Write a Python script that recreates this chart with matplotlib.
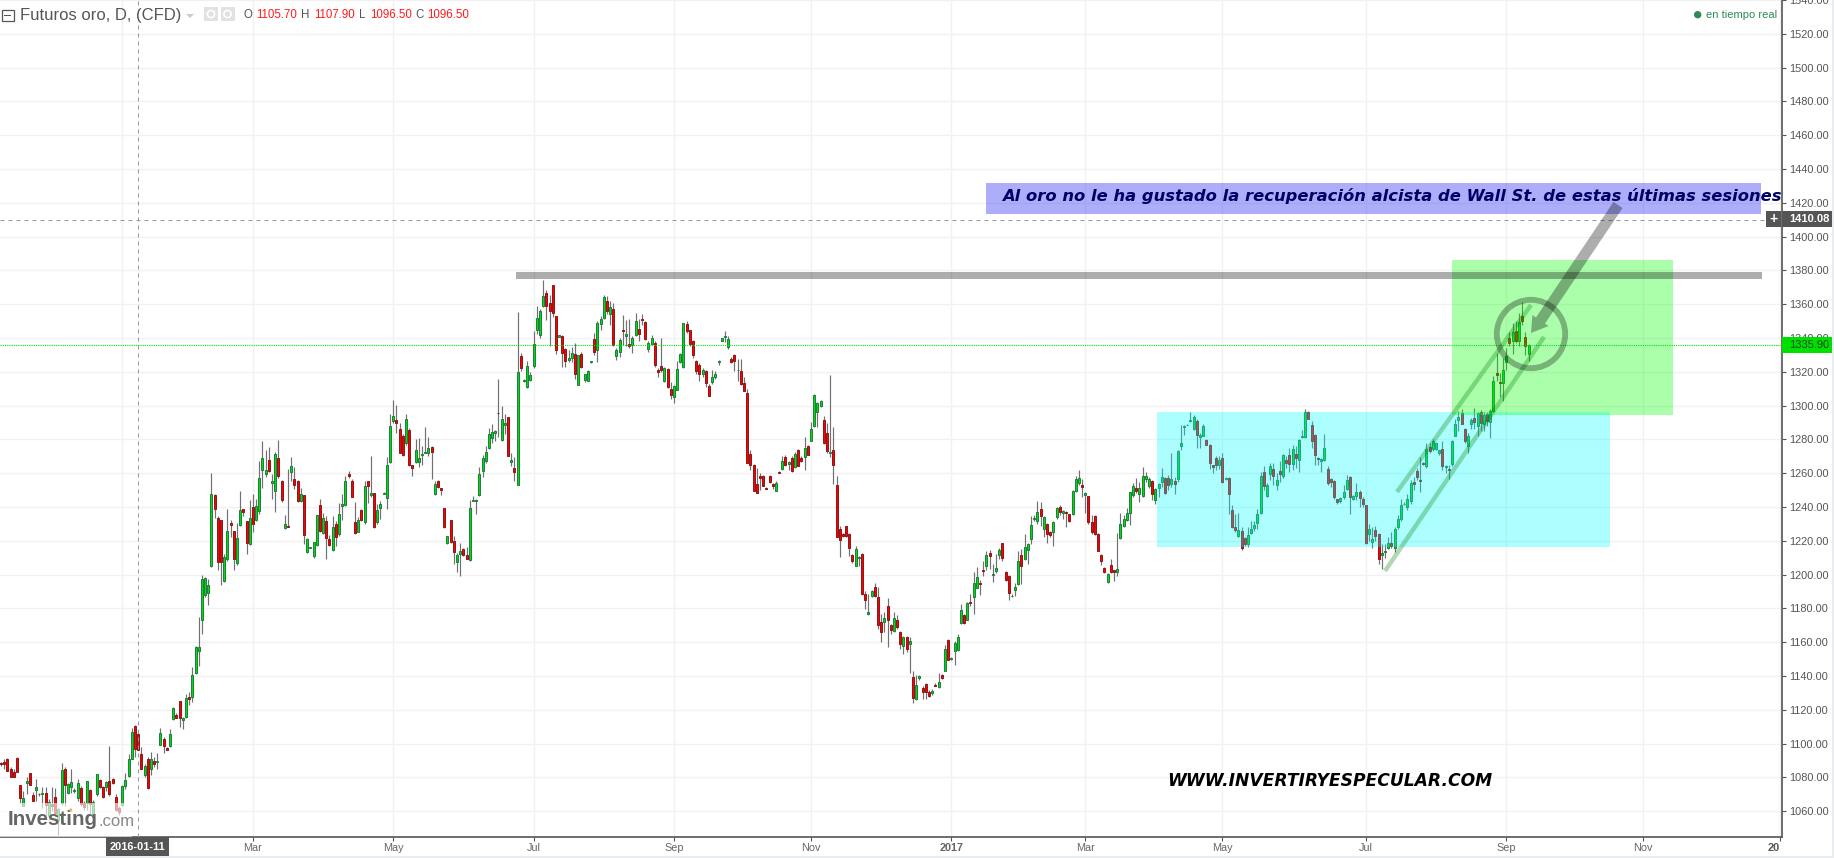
import matplotlib
matplotlib.use("Agg")
import matplotlib.pyplot as plt
from matplotlib.patches import Rectangle, Polygon, Circle
from matplotlib.transforms import Affine2D

plt.rcParams['font.family'] = ['Liberation Sans', 'DejaVu Sans']

opens = [
1088.3,1089.3,1091.2,1085.3,1083,1091.8,1075.3,1063.3,1076.9,1082.4,
1069.6,1072.8,1070,1070.1,1070.6,1057,1064.3,1068.3,1054.9,1064.7,
1084.8,1070.6,1074.5,1072.2,1067.7,1073.6,1064.7,1064.7,1072.4,1056.9,
1070,1078.3,1074.3,1074.1,1077.7,1078.9,1068.3,1061.8,1063.7,1075.1,
1081,1091.2,1110.7,1105.7,1093.6,1081.2,1091.2,1084.8,1089.9,1089.3,
1099.5,1103,1097.7,1098.9,1114.8,1117,1125,1114.2,1115.8,1127.8,
1127.6,1141.7,1154.9,1173.2,1188,1189.1,1205,1246.9,1233.3,1232.2,
1196,1209,1230.4,1225.7,1206.8,1229.2,1238.6,1231.6,1218,1239.8,
1232.2,1237.5,1262.2,1259.3,1268.1,1254,1249.3,1269.3,1255.2,1227.4,
1228.8,1261,1256.3,1255.7,1243.4,1246.9,1213.3,1216,1211,1217.6,
1241,1224.9,1231.6,1221,1214.5,1229.8,1223.9,1240.4,1241,1259.3,
1255.7,1231,1225.1,1238.1,1231,1255.2,1246.9,1248.1,1231,1239.2,
1247.9,1245.1,1266.4,1291.1,1291.7,1286.4,1282.3,1277.6,1285.8,1264.6,
1266.4,1266.4,1270.5,1272.2,1271.7,1275.8,1247.5,1255.7,1251,1239.2,
1218.6,1232.2,1219.8,1207.4,1212.1,1215,1211.5,1208.6,1243.8,1243.4,
1246.9,1261.6,1267,1275.2,1281.1,1284,1295.9,1279.8,1288.6,1293.3,
1266.6,1263.3,1253.1,1329.3,1314.4,1310.8,1315.2,1323.6,1344.6,1341.7,
1358.8,1366.4,1360.7,1371.2,1352.9,1340.9,1341.1,1333.4,1326.9,1328.1,
1330.5,1312.2,1330.5,1315.2,1314.6,1325.8,1339.3,1332.8,1348.2,1351.7,
1361.7,1354.1,1357,1329.3,1331.7,1344.6,1341.1,1336.4,1335.8,1341.7,
1345.2,1351.1,1349.4,1333.8,1336.4,1337,1321.1,1323.4,1314.6,1321.6,
1309.9,1304.9,1309.3,1325.8,1322.8,1348.2,1344.6,1338.1,1326.4,1324,
1318.7,1320.5,1311.6,1314,1316.7,1325.8,1338.1,1340.5,1334.6,1327.5,
1329.9,1320.9,1320.5,1313.4,1307.5,1271.5,1265.1,1253.9,1258.6,1258.6,
1251.5,1258.6,1253.9,1249.7,1260.9,1262.7,1269.8,1265.2,1269.2,1263.7,
1273.9,1269.2,1269.8,1276.2,1279.2,1288,1296.3,1299.8,1291.6,1283.9,
1272,1273.9,1253,1226.9,1223.9,1228.6,1223.9,1211.5,1205.4,1209.8,
1212.1,1188.5,1176.7,1187.2,1192.7,1186.8,1172,1172,1181.5,1170.3,
1166.9,1173.2,1166.1,1157.9,1163.2,1159.1,1139.6,1126.6,1139,1133.1,
1135.5,1130.8,1130.2,1134.6,1133.7,1140.8,1143.1,1161.4,1150.2,1155,
1155.5,1171.4,1176.2,1173.2,1183.9,1186.8,1192.1,1195,1202.7,1205,
1212.7,1199.7,1202.1,1211.5,1218.6,1201.5,1199.2,1187.2,1190.9,1194.4,
1211.5,1209.2,1214.5,1221,1233.2,1231.6,1238.6,1226.9,1229.8,1225.1,
1225.1,1233.9,1239.8,1236.3,1237,1235.7,1235.7,1249.3,1254,1252.8,
1246.9,1246.3,1231,1234.5,1223.9,1211.5,1203.9,1195.6,1205.6,1202.7,
1201.5,1221.5,1228.6,1232.2,1236.3,1246.9,1251,1247.5,1246.3,1256.3,
1252.2,1255.2,1244,1251,1254.6,1256.9,1256.9,1253.4,1255.2,1256.3,
1276.4,1287.6,1288.6,1291.2,1285.9,1291.2,1281.5,1282.3,1279.4,1277,
1264.6,1269.3,1264.6,1268.8,1256.4,1257,1238.1,1228.1,1222.8,1225.7,
1221.6,1218.1,1224.5,1227.5,1230.4,1236.3,1260.5,1246.3,1259.3,1262.3,
1252.8,1261.1,1258.1,1267.6,1270.5,1265.2,1271.1,1267.6,1281.7,1281.7,
1296.5,1288.8,1282.9,1268.8,1267,1267.6,1262.3,1256.4,1255.2,1244.6,
1243.4,1245.8,1250.5,1257.6,1244.6,1246.4,1248.7,1244.6,1241,1224,
1219.2,1226.3,1224,1211.6,1213.4,1215.7,1218.6,1215.7,1228.1,1232.8,
1241.6,1239.9,1243.4,1254.6,1261.1,1255.8,1265.9,1264,1275.8,1274.6,
1274.6,1271.7,1274.6,1263.5,1262.3,1265.2,1282.3,1291.7,1295.9,1286.4,
1276.4,1289.4,1292.9,1288.2,1296.5,1289.4,1295.3,1290.6,1297,1319.4,
1314.1,1313.5,1325.7,1340,1338.3,1344.2,1338.3,1353,1340.6,1330.6,
]

closes = [
1087.7,1087.7,1084,1080.4,1080.4,1083.4,1068,1068,1077.7,1075.7,
1066.3,1074.1,1070.4,1070.6,1063.7,1065.3,1063.3,1058.8,1061.2,1084.2,
1075.7,1075.9,1077.1,1072.8,1076.5,1064.3,1062.8,1077.7,1064.3,1065.7,
1081.8,1074.5,1068.6,1077.1,1070,1076.9,1060.8,1059.8,1074.7,1078.3,
1091.2,1107.2,1097.1,1096.5,1085.3,1086.7,1073.6,1091,1088.1,1089.6,
1106.6,1098.9,1096.5,1106,1121.3,1115.4,1115.4,1115.4,1127.2,1126.4,
1140.8,1157.1,1157.1,1197.4,1198,1193.8,1247.5,1238.6,1207.2,1207.2,
1210.3,1225.7,1229.6,1209,1221.5,1238,1237.3,1219,1233.3,1229.8,
1240.4,1256.9,1269.3,1262.2,1261.6,1255.7,1271.1,1258.1,1244,1229.8,
1228.4,1264,1252.8,1243.4,1247.5,1223.3,1221,1216.4,1219.2,1235.1,
1226.1,1233.3,1221.5,1217.4,1228,1222.1,1235.7,1241.6,1255.7,1258.5,
1246.1,1224.5,1232.2,1232.5,1252.2,1252.2,1248.1,1228,1238.1,1241.6,
1248.5,1264.6,1288.2,1294,1289.9,1272.2,1270.5,1292.3,1264.6,1263.2,
1274,1269.3,1271.1,1272.8,1275.2,1272.6,1253.4,1251.6,1250.2,1228,
1222.7,1219.2,1213.3,1211.5,1213.9,1211.5,1209.2,1239.2,1244.2,1244,
1259.3,1269.3,1272.8,1283.4,1284.6,1285.2,1295.5,1292.2,1289.8,1270.2,
1268,1260.7,1319.9,1322,1315.2,1323.4,1318.1,1336.4,1351.7,1355.8,
1364.7,1359,1355.8,1354.7,1333.2,1341.7,1331.1,1326.4,1328.1,1331.1,
1318.7,1329.9,1322.8,1318.7,1320.5,1326.4,1331.7,1348.8,1351.1,1364.1,
1355.8,1358.2,1335.8,1332.8,1338.7,1344,1342.3,1335.2,1339.9,1349.9,
1342.3,1350.5,1339.7,1336.8,1339.9,1323.8,1319.9,1321.1,1322.2,1311,
1306.3,1311.6,1321.6,1330.5,1348.8,1344,1336.4,1329.9,1320.5,1318.7,
1321.1,1313.4,1305.7,1316.9,1318.7,1326.4,1339.9,1341.1,1339.3,1325.8,
1326.4,1321.3,1312.8,1308.7,1266.2,1265.1,1249.7,1248.5,1257.4,1252.7,
1250.9,1255,1252.7,1254.4,1260.3,1267.4,1265.1,1266.8,1261.5,1271.5,
1264.3,1267.2,1275.1,1270.9,1286.3,1306.3,1301.6,1302.8,1278,1273.3,
1272.4,1265.1,1222.5,1220.4,1222.7,1222.7,1215.7,1207.8,1215,1210.4,
1188.3,1184.8,1177.9,1190.3,1187.4,1170,1166.1,1174.4,1173.2,1167.3,
1174.4,1169.1,1159.1,1163.2,1155.9,1160.8,1127.2,1134.9,1140.2,1130.8,
1130.8,1128.4,1131.4,1134.3,1136.7,1139,1156.1,1149.6,1150.8,1159.7,
1163.2,1179.1,1171.4,1183.2,1183.5,1195,1198.6,1194.4,1202.1,1211.5,
1211,1200.3,1203.9,1214.5,1209.8,1196.8,1189.1,1187.5,1192.7,1208,
1205,1216.2,1218,1229.2,1233.5,1236.9,1234.5,1233.9,1223.9,1223.3,
1231,1239.2,1236.9,1237.5,1236.7,1231.6,1249.3,1256.3,1256.9,1251.6,
1248.1,1231,1225.1,1223.9,1214.1,1208,1201.5,1200.3,1201.5,1201.5,
1203.3,1229.8,1232.8,1236.3,1248.7,1252.2,1249.3,1251,1258.1,1258.1,
1256.3,1247.5,1250.4,1253.4,1257.5,1248.1,1252.8,1256.3,1253.4,1273.4,
1277.6,1287.8,1288.8,1291.7,1293.5,1282.9,1282.9,1288.2,1277,1266.2,
1263.5,1264.6,1267.6,1254.6,1257,1247.9,1228.1,1226.3,1226.3,1215.7,
1218.1,1223.4,1226.9,1229.3,1235.7,1258.1,1252.2,1252.8,1264,1258.1,
1255.8,1259.3,1270.5,1265.8,1265.2,1274.6,1269.3,1279.4,1281.9,1296.5,
1292.3,1278.8,1270.5,1268.2,1268.2,1275.2,1254,1254.6,1245.8,1242.8,
1245.2,1248.7,1255.8,1245.8,1246.4,1248.7,1245.2,1241.6,1218.6,1226.9,
1221,1222.8,1209.2,1212.8,1214,1218.6,1216.9,1226.9,1232.8,1241,
1241.8,1244.6,1254,1253.4,1257.6,1255.6,1265.6,1274.6,1272.9,1278.8,
1277.6,1273.5,1264,1264,1261.7,1278.8,1289.4,1293.5,1289.4,1278.8,
1282.3,1291.7,1290.6,1295.9,1290,1294.7,1291.2,1297.1,1314.7,1318.2,
1313.5,1321.2,1329.6,1337.1,1343.6,1338.3,1349.5,1350.1,1335.3,1335.9,
]

highs = [
1089,1091.2,1091.8,1086,1085,1092,1075.5,1072.2,1080,1082.6,
1071.6,1079,1071,1074.5,1074.5,1067,1074.5,1074,1062,1088.8,
1086,1077,1085.3,1074,1078.9,1075,1066,1078,1073,1066.5,
1082,1079,1075,1078,1098.5,1079.5,1070.2,1063,1075.5,1082.4,
1093.6,1109.1,1111,1107.9,1098,1088,1092,1095.2,1092,1094.2,
1109.5,1104,1098,1108.9,1121.8,1118,1125.5,1116,1129.6,1130.5,
1145.3,1158,1174.8,1199.7,1198.8,1197.4,1259.9,1247.5,1234.7,1232.5,
1212,1238.6,1232.2,1226,1230.8,1249.5,1239,1232,1244,1247.5,
1244.5,1267.1,1279.3,1274,1275.8,1259.7,1272.6,1279.9,1256,1235.1,
1262.8,1269.5,1263.6,1256,1251.4,1247,1221.5,1216.6,1219.5,1235.5,
1244.5,1236.7,1234.7,1223.5,1234.7,1232,1242.2,1247.5,1258.3,1261.2,
1256.3,1243,1234.1,1239,1255.7,1255.7,1270.1,1248.5,1242,1243.4,
1249,1269.5,1294.9,1303.5,1300.5,1289.7,1283,1295,1286.5,1265,
1280,1280.9,1276,1287.2,1281.5,1276,1255.4,1256,1251.5,1239.4,
1223,1232.5,1223,1213,1219,1215.5,1216.6,1244,1246.5,1244.5,
1263.6,1270.6,1276,1286.8,1289.1,1285.5,1315.9,1300,1295,1293.5,
1272,1269.6,1355.4,1331.1,1315.5,1326.6,1320,1344.2,1359,1357,
1374.3,1368.4,1365.5,1371.5,1353.2,1342,1341.5,1334,1332.8,1334.4,
1337,1330.2,1332,1319,1321,1326.7,1343,1350,1353,1365.5,
1365,1362,1360.5,1334,1340,1353.5,1350.5,1351,1341,1354.8,
1351,1354,1350,1338,1341.5,1338,1322,1340,1323,1322,
1313.8,1312,1326.6,1331,1349,1350.1,1345,1339,1327,1325,
1322,1321,1312.8,1321,1320.6,1327,1340.2,1344.2,1341.3,1328.5,
1330.5,1327.5,1327.5,1316.7,1309.9,1273.9,1265.5,1263.3,1260,1259,
1252,1259,1254.5,1255.2,1261.5,1270,1270.8,1267.5,1270,1272.5,
1274.5,1270,1281.4,1277,1290.6,1306.9,1302,1303.5,1294.1,1289.6,
1318.3,1287.6,1258.3,1228.6,1224.5,1229,1224.5,1212,1217,1211,
1212.6,1190.3,1188.5,1191,1194.8,1192.9,1176.7,1178,1186.2,1171,
1178.1,1176,1166.5,1163.5,1163.5,1163,1142.8,1140.4,1140.5,1134,
1136,1131.5,1132.5,1136,1142,1141.5,1158.5,1162,1151.5,1160.5,
1165,1182.6,1177,1184,1188.5,1201.3,1204.3,1197,1208,1214.1,
1214.3,1206.2,1212,1215.5,1219,1202.3,1200,1188.5,1195,1214.1,
1215,1223.9,1219,1234.7,1235,1243.6,1243,1234.5,1230.5,1226,
1232,1240,1241,1238.5,1237.5,1236,1249.8,1258.5,1262.2,1256.5,
1249,1246.8,1235,1235,1224.5,1212,1204.5,1201,1209.4,1203,
1224.5,1236.3,1235,1239.5,1249,1254.5,1257,1255,1263.6,1260.5,
1257.5,1256,1251.5,1254.5,1263,1257.5,1259,1272,1258,1274,
1288.5,1288.5,1289,1296.5,1294.5,1292,1284,1289.2,1280,1277.5,
1265,1270,1270,1271.8,1257.5,1257.5,1241.2,1236,1236.3,1228,
1222,1228,1232,1232,1238.7,1261,1264,1254,1266.2,1266,
1260,1267,1271.5,1270,1275,1276.5,1276,1280,1285.3,1298.2,
1297,1291,1283.5,1269.5,1269,1283.5,1264,1257,1256,1245,
1246,1253,1259,1258.5,1247,1254,1250,1246,1241.5,1230,
1228,1229,1224.5,1218,1218,1222,1225,1228,1235,1245,
1243,1248,1256,1258,1263,1269.5,1266.5,1278,1278,1280,
1278.5,1274,1279,1265,1265,1279.5,1292,1297,1298,1287,
1284,1292.5,1298.5,1296.5,1297.3,1296,1296,1298,1317.3,1331.4,
1319.2,1328,1334,1343.8,1349.1,1350,1355,1361.3,1343.6,1336.5,
]

lows = [
1087,1085.3,1084,1080,1080,1083,1064.7,1063,1070,1075.5,
1066,1066,1069,1062,1058,1055,1060,1058,1046,1064,
1063,1070,1070.6,1071,1066,1063,1061,1061,1058,1055,
1069,1074,1068,1072,1069,1076,1060,1058,1063,1073,
1080,1091,1092,1096.5,1085,1080,1073,1081.4,1086,1085.3,
1099,1094.2,1096,1098,1114,1115,1110,1108.9,1115,1123,
1124.6,1141,1145.7,1164.6,1186.6,1182,1204.3,1233.7,1202.7,1193.8,
1195.5,1208,1222,1203,1206,1229,1234.7,1212.1,1217.5,1225,
1231.5,1236,1251,1258,1261,1244.5,1237.3,1257,1243,1227,
1228.4,1255.7,1250.4,1243,1243,1218.4,1213,1216,1209.8,1217,
1225,1224,1209,1217,1214,1217,1223,1232.2,1240.5,1257,
1246,1224,1225,1232,1230,1242.6,1246,1227.5,1230,1232.8,
1247.5,1238.6,1266,1290,1283.8,1272,1270,1277,1264,1258.3,
1266,1263.6,1264.6,1272,1270.1,1256.3,1247,1251,1247.1,1227.8,
1218.2,1219,1206.2,1201.3,1199,1211,1209,1208,1243.5,1236.1,
1246.5,1258,1266,1274.5,1278,1279,1281.4,1279,1283,1270,
1264,1255.2,1253,1320.3,1314,1310.5,1314.5,1322,1342.5,1340,
1358.5,1350.5,1335,1352.7,1330.5,1340.5,1322.6,1322.6,1326,1326,
1315.5,1312,1322,1314,1314.3,1325.5,1330,1325.6,1345,1351,
1354,1348,1335,1327,1329,1336,1335.5,1334,1331,1341,
1338.5,1348,1339,1332,1336,1323,1316.7,1320,1314,1310.5,
1304,1301.4,1309,1325,1322.5,1343,1335,1327.9,1319,1314.8,
1317,1310.8,1305.5,1312.8,1315.5,1323.8,1338,1337.4,1333.4,1325,
1320.7,1314.8,1312.5,1308.5,1266,1261.7,1249.5,1248.3,1250,1252.5,
1250.5,1254.5,1250.7,1249.5,1260,1262,1264.5,1262,1261,1263,
1264,1266.5,1261.7,1270.5,1279,1287.5,1287.3,1299,1277.5,1272,
1269.6,1253.8,1222,1210.2,1222,1222,1210.9,1207,1205,1205,
1188,1179.5,1176,1186.5,1187,1167.9,1160,1166,1157.1,1165,
1166,1168,1155.9,1152.9,1154,1141.8,1124,1126,1137.4,1126.5,
1126.6,1127.5,1129,1134,1133,1138.5,1143,1149.5,1149.5,1146.3,
1155,1171,1171,1173,1181.6,1176.7,1192,1188,1199,1203,
1203.5,1195.4,1201,1209,1208,1196.5,1185.2,1186.8,1187.5,1194,
1194.5,1208.5,1206.2,1218,1232,1230,1229,1222,1218.8,1222,
1217,1233,1235,1233,1228,1231,1235,1249,1253,1246,
1236.7,1230,1224,1223.5,1214,1206,1201,1195.2,1201,1196.5,
1199,1221,1228,1232,1229.5,1246,1248.5,1243,1246,1255,
1251,1244,1241.6,1246,1252,1247.5,1250,1252,1247.9,1255,
1274,1282.9,1288.5,1290.5,1285.5,1275,1275,1282,1276.5,1262.5,
1260,1262,1262.5,1254,1256,1236,1227.5,1225,1222,1214.5,
1217,1216.5,1224,1226,1227,1236,1250,1246,1256,1253,
1250,1255,1257,1263,1261,1262,1263,1261,1281,1281,
1292,1275,1265,1265,1260.5,1267,1253,1252,1245,1242,
1242.5,1245,1250,1236,1244,1244,1239.8,1240,1218,1220,
1216,1220,1206.5,1203.5,1210,1215,1216,1213.5,1227,1231.5,
1241,1238.5,1242,1250,1256,1249,1265,1263,1272,1273,
1274,1271,1262,1260,1256.5,1264,1282,1285,1289,1278,
1272,1286,1286,1282,1285,1285,1288,1280.9,1296.5,1314.3,
1305,1302.5,1321.2,1335.5,1330.6,1337,1335.5,1348,1329.8,1326.5,
]

y_ticks = list(range(1060, 1560, 20))
x_tick_pos = [79, 123, 167, 211, 254, 298, 340, 383, 428, 472, 515, 558]
x_tick_lab = ['Mar', 'May', 'Jul', 'Sep', 'Nov', '2017', 'Mar', 'May', 'Jul', 'Sep', 'Nov', '']
grid_extra = 38
cross_idx = 43
last_close = 1335.90
cross_price = 1410.08
res_price = 1376
cyan_box = (1295.8, 1216.0)
green_box = (1385.2, 1293.7)

n = len(opens)
if not (n == len(closes) == len(highs) == len(lows)):
    raise SystemExit(f"lengths {len(opens)} {len(closes)} {len(highs)} {len(lows)}")

W, H = 1834, 858
fig = plt.figure(figsize=(W / 100, H / 100), dpi=100, facecolor='white')
AX_R, AX_B = 1782, 837
ax = fig.add_axes([0, 1 - AX_B / H, AX_R / W, AX_B / H])
STEP = 3.189
ax.set_xlim(-1 / STEP, (AX_R - 1) / STEP)
PX_U = 1.694
ax.set_ylim(1440 - (AX_B - 167.5) / PX_U, 1440 + 167.5 / PX_U)

ax.set_yticks(y_ticks)
ax.set_yticklabels([f'{v:.2f}' for v in y_ticks], fontsize=7.9, color='#555555')
ax.yaxis.tick_right()
ax.set_xticks(x_tick_pos)
ax.set_xticklabels(x_tick_lab, fontsize=7.8, color='#666666')
for lab in ax.get_xticklabels():
    if lab.get_text() == '2017':
        lab.set_fontweight('bold')
ax.tick_params(axis='both', length=2.7, width=0.8, color='#555555')
ax.tick_params(axis='y', pad=2.3)
ax.tick_params(axis='x', pad=1.6)
ax.grid(True, color='#f1f1f1', lw=1.0, zorder=0)
ax.axvline(grid_extra, color='#f1f1f1', lw=1.0, zorder=0)
for s in ('top', 'left'):
    ax.spines[s].set_visible(False)
for s in ('right', 'bottom'):
    ax.spines[s].set_color('#555555')
    ax.spines[s].set_linewidth(1.2)
ax.set_axisbelow(True)

BW = 2.0 / STEP
for i, (o, h, l, c) in enumerate(zip(opens, highs, lows, closes)):
    ax.plot([i, i], [l, h], color='#707070', lw=0.85, zorder=2, solid_capstyle='butt')
    up = c >= o
    ax.bar(i, abs(c - o), BW, bottom=min(o, c),
           color='#00e000' if up else '#ff0000',
           edgecolor='#1c7a40' if up else '#8a1414', linewidth=0.68, zorder=3)

DASH = (0, (4, 4))
ax.axhline(cross_price, color='#999999', lw=0.72, ls=DASH, zorder=4)
ax.axvline(cross_idx, color='#999999', lw=0.72, ls=DASH, zorder=4)
ax.axhline(last_close, color='#00e600', lw=0.8, ls=(0, (1, 1)), zorder=4)

# drawings on top of the chart, placed in pixel coordinates of the figure
px = Affine2D().scale(1, -1).translate(0, H)
def P(patch):
    patch.set_transform(px)
    patch.set_clip_on(False)
    fig.add_artist(patch)

def y_of(price):
    return 167.5 + (1440 - price) * PX_U

P(Rectangle((1157, y_of(cyan_box[0])), 453, y_of(cyan_box[1]) - y_of(cyan_box[0]),
            fc=(0, 1, 1, 0.32), ec='none', zorder=5))
P(Rectangle((1452, y_of(green_box[0])), 221, y_of(green_box[1]) - y_of(green_box[0]),
            fc=(0, 1, 0, 0.33), ec='none', zorder=5))
P(Rectangle((986, 182.5), 774.5, 31, fc=(0.2, 0.2, 0.95, 0.40), ec='none', zorder=5))
P(Rectangle((516, y_of(res_price) - 3.5), 1245.5, 7, fc=(0, 0, 0, 0.32), ec='none', zorder=6))

def band(x0, y0, x1, y1, w, col):
    dx, dy = x1 - x0, y1 - y0
    L = (dx * dx + dy * dy) ** 0.5
    ux, uy = -dy / L * w / 2, dx / L * w / 2
    P(Polygon([(x0 + ux, y0 + uy), (x1 + ux, y1 + uy), (x1 - ux, y1 - uy), (x0 - ux, y0 - uy)],
              closed=True, fc=col, ec='none', zorder=6))

band(1397, 492, 1531, 305, 4.5, (0, 0.5, 0, 0.30))
band(1385, 571, 1544, 337, 4.5, (0, 0.5, 0, 0.30))
# arrow
P(Polygon([(1622.5, 208.1), (1613.5, 201.9), (1536, 317.4), (1532.4, 315), (1531, 333),
           (1548.6, 326), (1545, 323.6)],
          closed=True, fc=(0, 0, 0, 0.32), ec='none', zorder=7))
P(Circle((1531, 334), 34.2, fc='none', ec=(0, 0, 0, 0.30), lw=4.2, zorder=7))

# text
def T(x, y, s, **k):
    return fig.text(x, y, s, transform=px, **k)

P(Rectangle((1.5, 9.5), 12, 11, fc='white', ec='#555555', lw=0.9, zorder=8))
P(Rectangle((4, 14.7), 7, 0.9, fc='#555555', ec='none', zorder=9))
T(20, 15.5, 'Futuros oro, D, (CFD)', fontsize=12, color='#555555', va='center', ha='left', zorder=9)
P(Polygon([(186, 14), (194, 14), (190, 18)], closed=True, fc='#cccccc', ec='none', zorder=9))
for x0 in (204, 220.5):
    P(Rectangle((x0, 7), 14, 14, fc='#e2e2e2', ec='none', zorder=8))
    P(Circle((x0 + 7, 14), 3.6, fc='none', ec='white', lw=1.2, zorder=9))
for x0, s, c in [(243.5, 'O', '#555555'), (256, '1105.70', '#ff1a1a'), (301, 'H', '#555555'),
                 (314, '1107.90', '#ff1a1a'), (359, 'L', '#555555'), (370, '1096.50', '#ff1a1a'),
                 (415, 'C', '#555555'), (427, '1096.50', '#ff1a1a')]:
    T(x0, 14.5, s, fontsize=8.3, color=c, va='center', ha='left', zorder=9)
P(Circle((1697.7, 14.7), 3.7, fc='#2e8b57', ec='none', zorder=9))
T(1706, 14.7, 'en tiempo real', fontsize=8, color='#2e8b57', va='center', ha='left', zorder=9)

T(1002, 196, 'Al oro no le ha gustado la recuperación alcista de Wall St. de estas últimas sesiones',
  fontsize=11.8, color='#000066', fontweight='bold', fontstyle='italic', family='DejaVu Sans',
  va='center', ha='left', zorder=9)
T(1167, 781, 'WWW.INVERTIRYESPECULAR.COM', fontsize=12.3, color='#000000', fontweight='bold',
  fontstyle='italic', family='DejaVu Sans', va='center', ha='left', zorder=9)

# watermark
P(Rectangle((0, 803), 132, 34, fc=(1, 1, 1, 0.62), ec='none', zorder=8))
T(8, 819.5, 'Investing', fontsize=14.8, fontweight='bold', color='#666666', va='center', ha='left', zorder=9)
P(Circle((70.7, 810), 1.6, fc='#f5b05a', ec='none', zorder=10))
T(99, 821, '.com', fontsize=12, color='#888888', va='center', ha='left', zorder=9)

# labels on the axes
P(Rectangle((106, 837), 63, 19, fc='#555555', ec='none', zorder=8))
T(137.5, 847.5, '2016-01-11', fontsize=7.9, fontweight='bold', color='white', va='center', ha='center', zorder=9)
T(1774, 848, '20', fontsize=7.9, fontweight='bold', color='#555555', va='center', ha='center', zorder=9)
P(Rectangle((1766, 211), 15, 16, fc='#555555', ec='none', zorder=8))
T(1773.5, 218.5, '+', fontsize=10, color='white', fontweight='bold', va='center', ha='center', zorder=9)
P(Rectangle((1782, 211), 50, 16, fc='#555555', ec='none', zorder=8))
T(1789, 219, '1410.08', fontsize=8, fontweight='bold', color='white', va='center', ha='left', zorder=9)
P(Rectangle((1782, 337), 50, 16, fc='#00e000', ec='none', zorder=8))
T(1789, 345, f'{last_close:.2f}', fontsize=8, color='#1a4a1a', va='center', ha='left', zorder=9)
P(Rectangle((0, 856), W, 2, fc='#e9edf0', ec='none', zorder=8))
P(Rectangle((1832, 0), 2, H, fc='#e9edf0', ec='none', zorder=8))

fig.savefig('out.png', dpi=100)
